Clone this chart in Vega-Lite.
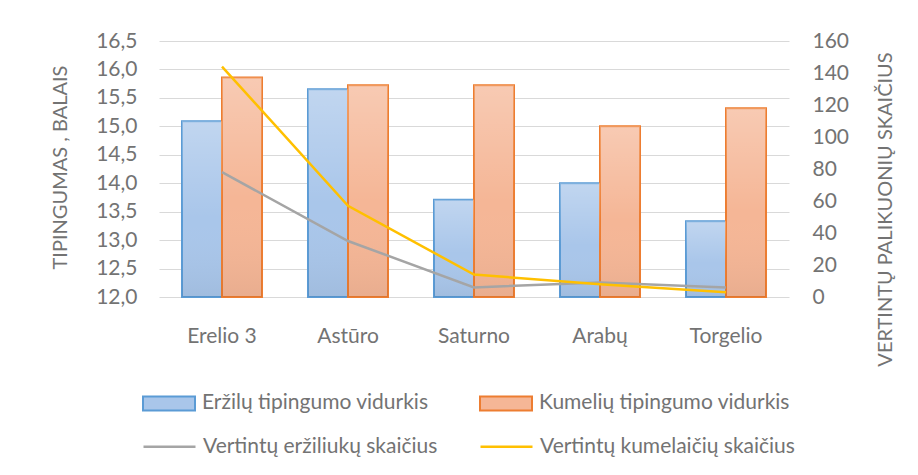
{
  "$schema": "https://vega.github.io/schema/vega-lite/v6.json",
  "width": 630,
  "height": 256,
  "autosize": {"type": "none"},
  "padding": {"left": 159, "top": 41, "right": 129, "bottom": 178},
  "background": "white",
  "config": {
    "font": "Lato",
    "view": {"stroke": null},
    "axis": {
      "labelFont": "Lato",
      "titleFont": "Lato",
      "labelColor": "#737373",
      "titleColor": "#737373",
      "domain": false,
      "ticks": false,
      "tickSize": 0,
      "titleFontWeight": "normal"
    },
    "legend": {
      "labelFont": "Lato",
      "labelColor": "#737373",
      "labelFontSize": 21,
      "padding": 0
    }
  },
  "datasets": {
    "bars": [
      {"breed": "Erelio 3", "series": "Eržilų tipingumo vidurkis", "value": 15.09},
      {"breed": "Erelio 3", "series": "Kumelių tipingumo vidurkis", "value": 15.86},
      {"breed": "Astūro", "series": "Eržilų tipingumo vidurkis", "value": 15.65},
      {"breed": "Astūro", "series": "Kumelių tipingumo vidurkis", "value": 15.72},
      {"breed": "Saturno", "series": "Eržilų tipingumo vidurkis", "value": 13.71},
      {"breed": "Saturno", "series": "Kumelių tipingumo vidurkis", "value": 15.72},
      {"breed": "Arabų", "series": "Eržilų tipingumo vidurkis", "value": 14.0},
      {"breed": "Arabų", "series": "Kumelių tipingumo vidurkis", "value": 15.0},
      {"breed": "Torgelio", "series": "Eržilų tipingumo vidurkis", "value": 13.33},
      {"breed": "Torgelio", "series": "Kumelių tipingumo vidurkis", "value": 15.32}
    ],
    "lines": [
      {"breed": "Erelio 3", "series": "Vertintų eržiliukų skaičius", "count": 78},
      {"breed": "Astūro", "series": "Vertintų eržiliukų skaičius", "count": 35},
      {"breed": "Saturno", "series": "Vertintų eržiliukų skaičius", "count": 6},
      {"breed": "Arabų", "series": "Vertintų eržiliukų skaičius", "count": 9},
      {"breed": "Torgelio", "series": "Vertintų eržiliukų skaičius", "count": 6},
      {"breed": "Erelio 3", "series": "Vertintų kumelaičių skaičius", "count": 144},
      {"breed": "Astūro", "series": "Vertintų kumelaičių skaičius", "count": 57},
      {"breed": "Saturno", "series": "Vertintų kumelaičių skaičius", "count": 14},
      {"breed": "Arabų", "series": "Vertintų kumelaičių skaičius", "count": 8},
      {"breed": "Torgelio", "series": "Vertintų kumelaičių skaičius", "count": 3}
    ]
  },
  "layer": [
    {
      "data": {"name": "bars"},
      "encoding": {
        "x": {
          "field": "breed",
          "type": "nominal",
          "sort": ["Erelio 3", "Astūro", "Saturno", "Arabų", "Torgelio"],
          "scale": {"paddingInner": 0.365, "paddingOuter": 0.1825},
          "axis": {
            "title": null,
            "labelAngle": 0,
            "labelFontSize": 21,
            "labelPadding": 28,
            "labelBaseline": "top"
          }
        },
        "xOffset": {
          "field": "series",
          "sort": ["Eržilų tipingumo vidurkis", "Kumelių tipingumo vidurkis"],
          "scale": {"paddingInner": 0, "paddingOuter": 0}
        },
        "y": {
          "field": "value",
          "type": "quantitative",
          "scale": {"domain": [12, 16.5], "zero": false, "nice": false},
          "axis": {
            "title": "TIPINGUMAS , BALAIS",
            "values": [12, 12.5, 13, 13.5, 14, 14.5, 15, 15.5, 16, 16.5],
            "labelExpr": "replace(format(datum.value, '.1f'), '.', ',')",
            "grid": true,
            "gridColor": "#d9d9d9",
            "gridWidth": 1,
            "labelFontSize": 21,
            "labelPadding": 22,
            "titleFontSize": 20,
            "titleAngle": 270,
            "titleX": -99,
            "titleY": 126,
            "titleAlign": "center",
            "titleBaseline": "middle"
          }
        },
        "y2": {"datum": 12}
      },
      "layer": [
        {
          "mark": {"type": "bar", "strokeWidth": 2, "fillOpacity": 1},
          "encoding": {
            "stroke": {
              "field": "series",
              "type": "nominal",
              "scale": {
                "domain": ["Eržilų tipingumo vidurkis", "Kumelių tipingumo vidurkis"],
                "range": ["#5b9bd5", "#ed7d31"]
              },
              "legend": {
                "title": null,
                "orient": "none",
                "legendX": -17,
                "legendY": 335,
                "direction": "horizontal",
                "columns": 2,
                "columnPadding": 47,
                "symbolType": "M-1,-0.27H1V0.27H-1Z",
                "symbolSize": 2704,
                "symbolStrokeWidth": 2,
                "labelOffset": 6,
                "labelLimit": 400
              }
            },
            "fill": {
              "field": "series",
              "type": "nominal",
              "scale": {
                "domain": ["Eržilų tipingumo vidurkis", "Kumelių tipingumo vidurkis"],
                "range": ["#a9c6ea", "#f5b696"]
              },
              "legend": {
                "title": null,
                "orient": "none",
                "legendX": -17,
                "legendY": 335,
                "direction": "horizontal",
                "columns": 2,
                "columnPadding": 47,
                "symbolType": "M-1,-0.27H1V0.27H-1Z",
                "symbolSize": 2704,
                "symbolStrokeWidth": 2,
                "labelOffset": 6,
                "labelLimit": 400
              }
            }
          }
        },
        {
          "mark": {
            "type": "bar",
            "strokeWidth": 0,
            "fill": {
              "gradient": "linear",
              "x1": 0, "y1": 0, "x2": 0, "y2": 1,
              "stops": [
                {"offset": 0, "color": "rgba(255,255,255,0.28)"},
                {"offset": 0.55, "color": "rgba(255,255,255,0)"},
                {"offset": 1, "color": "rgba(0,0,0,0.05)"}
              ]
            }
          },
          "encoding": {}
        }
      ]
    },
    {
      "data": {"name": "lines"},
      "mark": {"type": "line", "strokeWidth": 2.5},
      "encoding": {
        "x": {
          "field": "breed",
          "type": "nominal",
          "sort": ["Erelio 3", "Astūro", "Saturno", "Arabų", "Torgelio"]
        },
        "y": {
          "field": "count",
          "type": "quantitative",
          "scale": {"domain": [0, 160], "nice": false},
          "axis": {
            "orient": "right",
            "title": "VERTINTŲ PALIKUONIŲ SKAIČIUS",
            "values": [0, 20, 40, 60, 80, 100, 120, 140, 160],
            "grid": false,
            "labelFontSize": 21,
            "labelPadding": 23,
            "titleFontSize": 20,
            "titleAngle": 270,
            "titleX": 96,
            "titleY": 168,
            "titleAlign": "center",
            "titleBaseline": "middle"
          }
        },
        "color": {
          "field": "series",
          "type": "nominal",
          "scale": {
            "domain": ["Vertintų eržiliukų skaičius", "Vertintų kumelaičių skaičius"],
            "range": ["#a5a5a5", "#ffc000"]
          },
          "legend": {
            "title": null,
            "orient": "none",
            "legendX": -17,
            "legendY": 378,
            "direction": "horizontal",
            "columns": 2,
            "columnPadding": 37,
            "symbolType": "stroke",
            "symbolSize": 2704,
            "symbolStrokeWidth": 2.5,
            "labelOffset": 6,
            "labelLimit": 400
          }
        }
      }
    }
  ],
  "resolve": {"scale": {"y": "independent"}}
}
